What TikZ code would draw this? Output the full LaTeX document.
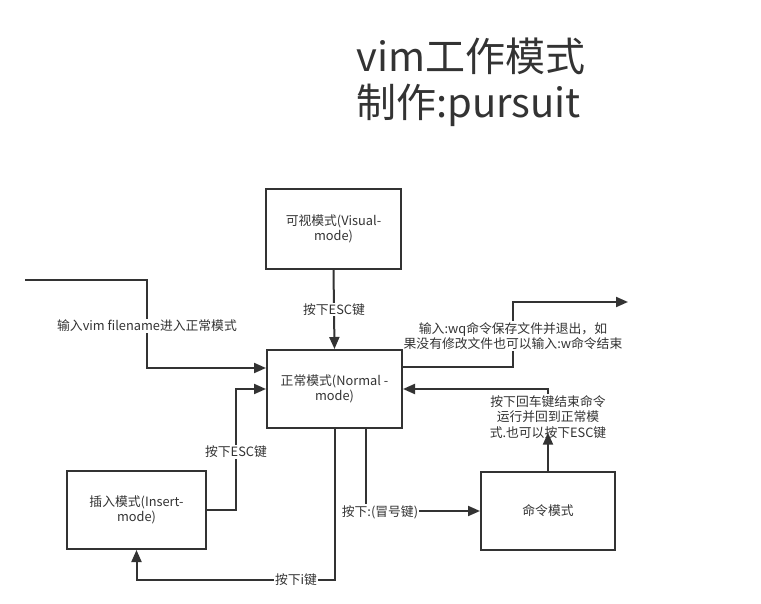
\documentclass[tikz,border=0pt]{standalone}
\usepackage{fontspec}
\setmainfont{Noto Sans CJK SC}
\usetikzlibrary{arrows.meta}
\definecolor{ink}{HTML}{333333}
\begin{document}
\begin{tikzpicture}[x=1pt,y=-1pt,
  box/.style={draw=ink,line width=2pt,text=ink,align=center,inner sep=2pt,font=\fontsize{12.8}{15.5}\selectfont},
  lbl/.style={fill=white,text=ink,align=center,inner sep=1pt,font=\fontsize{12.8}{15.5}\selectfont},
  arr/.style={draw=ink,line width=2pt,-{Triangle[length=12pt,width=10pt]}},
  ttl/.style={text=ink,align=left,anchor=west,inner sep=0pt,font=\fontsize{40}{46}\selectfont}]
\useasboundingbox (0,0) rectangle (761,604);
\node[ttl] (title) at (356,82) {vim工作模式\\制作:pursuit};
\node[box,minimum width=135pt,minimum height=80pt] (visual) at (333.5,229) {可视模式(Visual-\\mode)};
\node[box,minimum width=135pt,minimum height=78pt] (normal) at (334.5,389) {正常模式(Normal -\\mode)};
\node[box,minimum width=139pt,minimum height=78pt] (insert) at (136.5,510) {插入模式(Insert-\\mode)};
\node[box,minimum width=134pt,minimum height=78pt] (command) at (548,511) {命令模式};
\coordinate (start) at (25,280);
\coordinate (c1) at (147,280);
\coordinate (c3) at (236,510);
\coordinate (c4) at (296,580);
\coordinate (c7) at (513,302);
\coordinate (exitend) at (628,302);
% entry
\draw[arr] (start) -- (c1) |- ([yshift=21pt]normal.west);
\node[lbl] (l1) at (147,326) {输入vim filename进入正常模式};
% visual -> normal
\draw[arr] (visual.south) -- node[lbl] (l2) {按下ESC键} (normal.north);
% insert -> normal
\draw[arr] (insert.east) -- (c3) |- (normal.west);
\node[lbl] (l3) at (236,452) {按下ESC键};
% normal -> insert
\draw[arr] (normal.south) |- (c4) -| (insert.south);
\node[lbl] (l4) at (c4) {按下i键};
% normal -> command
\draw[arr] ([xshift=31.5pt]normal.south) |- (command.west);
\node[lbl] (l5) at (380,512) {按下:(冒号键)};
% command -> normal
\node[lbl] (l6) at (548,417) {按下回车键结束命令\\运行并回到正常模\\式.也可以按下ESC键};
\draw[arr] (l6.north) |- (normal.east);
\draw[arr] (command.north) -- ([yshift=7pt]l6.south);
% exit
\draw[arr] ([yshift=22pt]normal.east) -| (c7) -- (exitend);
\node[lbl] (l7) at (513,336) {输入:wq命令保存文件并退出，如\\果没有修改文件也可以输入:w命令结束};
\end{tikzpicture}
\end{document}
